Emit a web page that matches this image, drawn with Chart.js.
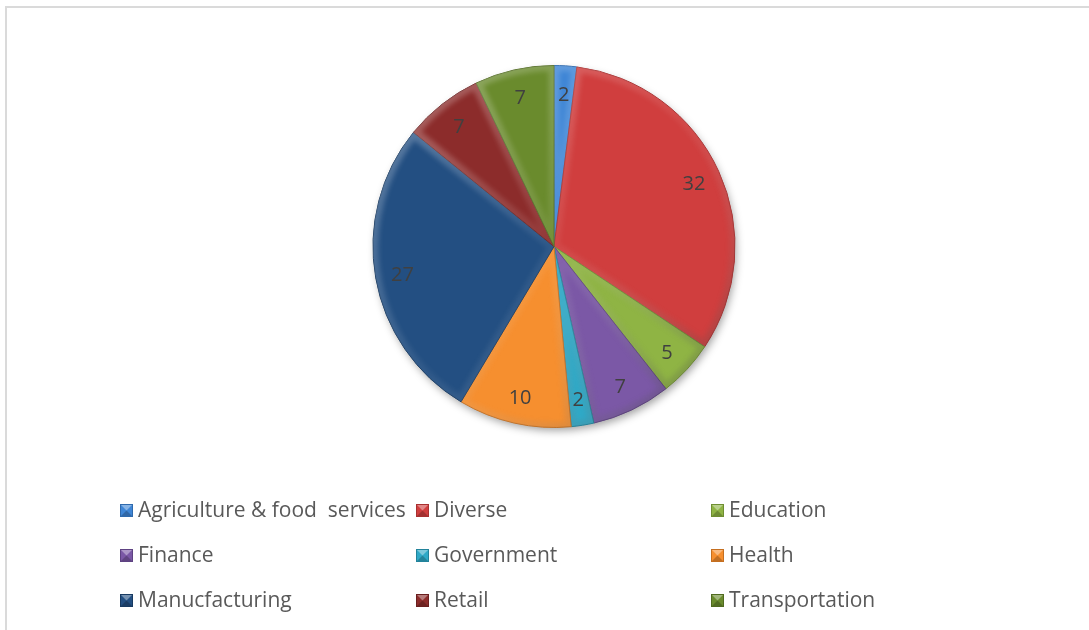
<!DOCTYPE html>
<html>
<head>
<meta charset="utf-8">
<script src="https://cdn.jsdelivr.net/npm/chart.js@4.4.1/dist/chart.umd.min.js"></script>
<style>
  html, body { margin: 0; padding: 0; background: #ffffff; overflow: hidden; }
  #frame { position: absolute; left: 5px; top: 6px; width: 1200px; height: 700px;
           border-left: 2px solid #dadada; border-top: 2px solid #dadada; box-sizing: border-box; }
  #wrap { position: absolute; left: 0; top: 0; width: 1089px; height: 630px; }
</style>
</head>
<body>
<div id="frame"></div>
<div id="wrap"><canvas id="sectorPie"></canvas></div>
<script>
// Sectors and number of organisations in each
const sectors = [
  'Agriculture & food  services', 'Diverse', 'Education',
  'Finance', 'Government', 'Health',
  'Manucfacturing', 'Retail', 'Transportation'
];
const counts = [2, 32, 5, 7, 2, 10, 27, 7, 7];
const sliceColors = ['#3f86d6', '#d03e3e', '#8fb444', '#7b58a6', '#2fa9c7', '#f68f2f', '#234f82', '#8c2c2b', '#6a8b2d'];
const edgeColors  = ['#2f6aad', '#a83030', '#6f8e32', '#5e4282', '#22839b', '#c56f20', '#183a61', '#6a1f1f', '#506a20'];

const FONT = '"Open Sans", "Noto Sans", sans-serif';

// soft shadow under the whole pie
const pieShadow = {
  id: 'pieShadow',
  beforeDatasetsDraw(chart) {
    const arc = chart.getDatasetMeta(0).data[0];
    if (!arc) return;
    const { x, y, outerRadius } = arc.getProps(['x', 'y', 'outerRadius'], true);
    const ctx = chart.ctx;
    ctx.save();
    ctx.shadowColor = 'rgba(0,0,0,0.38)';
    ctx.shadowBlur = 9;
    ctx.shadowOffsetX = 2;
    ctx.shadowOffsetY = 4;
    ctx.fillStyle = '#ffffff';
    ctx.beginPath();
    ctx.arc(x, y, outerRadius - 1, 0, Math.PI * 2);
    ctx.fill();
    ctx.restore();
  }
};

// soft rounded-edge shading on each slice, lit from the upper left
const sliceBevel = {
  id: 'sliceBevel',
  afterDatasetsDraw(chart) {
    const ctx = chart.ctx;
    chart.getDatasetMeta(0).data.forEach(arc => {
      const { x, y, startAngle, endAngle, outerRadius } =
        arc.getProps(['x', 'y', 'startAngle', 'endAngle', 'outerRadius'], true);
      const path = () => {
        ctx.beginPath();
        ctx.moveTo(x, y);
        ctx.arc(x, y, outerRadius, startAngle, endAngle);
        ctx.closePath();
      };
      ctx.save();
      path();
      ctx.clip();
      const g = ctx.createLinearGradient(x - outerRadius, y - outerRadius, x + outerRadius, y + outerRadius);
      g.addColorStop(0, 'rgba(255,255,255,0.30)');
      g.addColorStop(0.5, 'rgba(255,255,255,0.06)');
      g.addColorStop(1, 'rgba(0,0,0,0.28)');
      ctx.filter = 'blur(2.5px)';
      path();
      ctx.strokeStyle = g;
      ctx.lineWidth = 11;
      ctx.lineJoin = 'round';
      ctx.stroke();
      ctx.restore();
    });
  }
};

// value written inside each slice
const sliceValues = {
  id: 'sliceValues',
  afterDatasetsDraw(chart) {
    const ctx = chart.ctx;
    const values = chart.data.datasets[0].data;
    ctx.save();
    ctx.font = '20px ' + FONT;
    ctx.fillStyle = '#404040';
    ctx.textAlign = 'center';
    ctx.textBaseline = 'middle';
    chart.getDatasetMeta(0).data.forEach((arc, i) => {
      const { x, y, startAngle, endAngle, outerRadius } =
        arc.getProps(['x', 'y', 'startAngle', 'endAngle', 'outerRadius'], true);
      const mid = (startAngle + endAngle) / 2;
      const r = outerRadius * 0.85;
      ctx.fillText(String(values[i]), x + Math.cos(mid) * r, y + Math.sin(mid) * r + 2);
    });
    ctx.restore();
  }
};

// three-column legend with bevelled square markers
const gridLegend = {
  id: 'gridLegend',
  afterDraw(chart) {
    const ctx = chart.ctx;
    const colX = [120, 416, 711];
    const rowY = [504, 549, 594];
    const box = 13;
    ctx.save();
    ctx.font = '21px ' + FONT;
    ctx.textBaseline = 'middle';
    ctx.textAlign = 'left';
    chart.data.labels.forEach((label, i) => {
      const bx = colX[i % 3], by = rowY[Math.floor(i / 3)];
      const h = box / 2;
      ctx.fillStyle = sliceColors[i];
      ctx.fillRect(bx, by, box, box);
      // pyramid facets of the marker
      ctx.fillStyle = 'rgba(255,255,255,0.38)';
      ctx.beginPath(); ctx.moveTo(bx, by); ctx.lineTo(bx + box, by); ctx.lineTo(bx + h, by + h); ctx.closePath(); ctx.fill();
      ctx.fillStyle = 'rgba(0,0,0,0.22)';
      ctx.beginPath(); ctx.moveTo(bx, by + box); ctx.lineTo(bx + box, by + box); ctx.lineTo(bx + h, by + h); ctx.closePath(); ctx.fill();
      ctx.strokeStyle = edgeColors[i];
      ctx.lineWidth = 1;
      ctx.strokeRect(bx + 0.5, by + 0.5, box - 1, box - 1);
      ctx.fillStyle = '#595959';
      ctx.fillText(label, bx + 18, by + h + 1);
    });
    ctx.restore();
  }
};

new Chart(document.getElementById('sectorPie'), {
  type: 'pie',
  data: {
    labels: sectors,
    datasets: [{
      data: counts,
      backgroundColor: sliceColors,
      borderColor: edgeColors,
      borderWidth: 1
    }]
  },
  options: {
    responsive: true,
    maintainAspectRatio: false,
    animation: false,
    layout: { padding: { top: 65, bottom: 202, left: 200, right: 181 } },
    plugins: {
      legend: { display: false },
      tooltip: { enabled: false }
    }
  },
  plugins: [pieShadow, sliceBevel, sliceValues, gridLegend]
});
</script>
</body>
</html>
